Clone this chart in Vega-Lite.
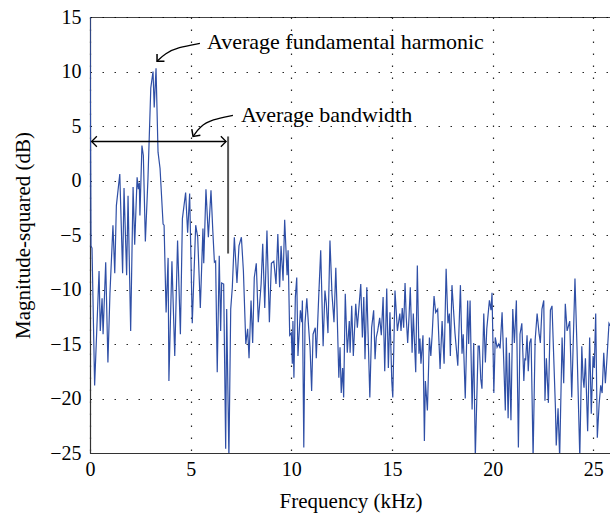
{
  "$schema": "https://vega.github.io/schema/vega-lite/v6.json",
  "width": 521,
  "height": 436,
  "autosize": {"type": "none"},
  "padding": {"left": 90, "top": 17, "right": 0, "bottom": 63},
  "config": {
    "view": {"stroke": "#444", "strokeWidth": 1},
    "font": "Liberation Serif",
    "axis": {
      "labelFont": "Liberation Serif",
      "titleFont": "Liberation Serif",
      "labelFontSize": 20,
      "titleFontSize": 21,
      "titleFontWeight": "normal",
      "labelColor": "#000",
      "titleColor": "#000",
      "domainColor": "#333",
      "domainWidth": 1.2,
      "ticks": false,
      "labelFlush": false,
      "grid": true,
      "gridColor": "#000",
      "gridWidth": 1.2,
      "gridOpacity": 0.85,
      "gridDash": [1.5, 10.5]
    }
  },
  "datasets": {
    "spectrum": [
      {"f":0.0,"db":16},{"f":0.05,"db":-6.0},{"f":0.1,"db":-6.2},{"f":0.23,"db":-18.8},{"f":0.45,"db":-8.3},{"f":0.51,"db":-13.8},{"f":0.6,"db":-10.8},{"f":0.65,"db":-14.1},{"f":0.78,"db":-7.5},{"f":0.89,"db":-16.7},
      {"f":0.99,"db":-10.4},{"f":1.14,"db":-4.1},{"f":1.23,"db":-8.5},{"f":1.31,"db":-2.3},{"f":1.48,"db":0.6},{"f":1.62,"db":-8.5},{"f":1.69,"db":-0.7},{"f":1.82,"db":-8.7},{"f":1.89,"db":-1.4},{"f":2.02,"db":-13.8},
      {"f":2.14,"db":-0.6},{"f":2.22,"db":-5.9},{"f":2.34,"db":0.3},{"f":2.4,"db":-0.8},{"f":2.45,"db":-0.2},{"f":2.48,"db":-3.2},{"f":2.58,"db":3.2},{"f":2.65,"db":2.3},{"f":2.75,"db":-5.6},{"f":2.88,"db":0.2},
      {"f":3.02,"db":8.5},{"f":3.13,"db":10.0},{"f":3.19,"db":6.7},{"f":3.28,"db":10.3},{"f":3.38,"db":2.6},{"f":3.48,"db":1.1},{"f":3.63,"db":-4.0},{"f":3.68,"db":-4.1},{"f":3.78,"db":-12.1},{"f":3.88,"db":-7.1},
      {"f":3.92,"db":-18.4},{"f":4.07,"db":-7.4},{"f":4.21,"db":-16.1},{"f":4.35,"db":-5.5},{"f":4.49,"db":-14.1},{"f":4.59,"db":-3.5},{"f":4.75,"db":-1.1},{"f":4.85,"db":-4.8},{"f":4.95,"db":-1.2},{"f":5.08,"db":-13.1},
      {"f":5.25,"db":-4.1},{"f":5.35,"db":-5.2},{"f":5.48,"db":-11.7},{"f":5.61,"db":-4.4},{"f":5.65,"db":-7.6},{"f":5.76,"db":-0.8},{"f":5.88,"db":-5.2},{"f":6.01,"db":-0.9},{"f":6.1,"db":-4.6},{"f":6.18,"db":-7.5},
      {"f":6.24,"db":-7.4},{"f":6.32,"db":-17.6},{"f":6.42,"db":-6.9},{"f":6.49,"db":-13.8},{"f":6.54,"db":-9.4},{"f":6.64,"db":-9.5},{"f":6.74,"db":-24.6},{"f":6.79,"db":-11.8},{"f":6.9,"db":-25.4},{"f":6.99,"db":-11.8},
      {"f":7.07,"db":-9.8},{"f":7.17,"db":-5.2},{"f":7.3,"db":-9.4},{"f":7.4,"db":-6.0},{"f":7.52,"db":-5.2},{"f":7.62,"db":-8.3},{"f":7.74,"db":-15.0},{"f":7.83,"db":-13.6},{"f":7.9,"db":-16.3},{"f":8.0,"db":-11.0},
      {"f":8.08,"db":-14.9},{"f":8.16,"db":-8.9},{"f":8.26,"db":-7.6},{"f":8.36,"db":-13.0},{"f":8.5,"db":-9.5},{"f":8.58,"db":-5.8},{"f":8.68,"db":-11.7},{"f":8.79,"db":-4.6},{"f":8.91,"db":-13.0},{"f":9.01,"db":-7.6},
      {"f":9.13,"db":-7.4},{"f":9.24,"db":-9.5},{"f":9.33,"db":-4.9},{"f":9.42,"db":-9.8},{"f":9.49,"db":-6.0},{"f":9.59,"db":-9.2},{"f":9.67,"db":-3.6},{"f":9.79,"db":-8.7},{"f":9.84,"db":-6.4},{"f":9.92,"db":-14.2},
      {"f":10.0,"db":-14.0},{"f":10.05,"db":-16.8},{"f":10.08,"db":-12.9},{"f":10.13,"db":-18.1},{"f":10.2,"db":-10.7},{"f":10.27,"db":-8.9},{"f":10.33,"db":-16.1},{"f":10.45,"db":-11.9},{"f":10.52,"db":-13.0},{"f":10.55,"db":-11.0},
      {"f":10.62,"db":-24.5},{"f":10.68,"db":-13.1},{"f":10.77,"db":-10.8},{"f":10.86,"db":-13.5},{"f":10.93,"db":-15.3},{"f":11.01,"db":-19.3},{"f":11.08,"db":-14.1},{"f":11.19,"db":-13.5},{"f":11.24,"db":-16.3},{"f":11.36,"db":-10.7},
      {"f":11.46,"db":-6.4},{"f":11.58,"db":-15.2},{"f":11.67,"db":-10.1},{"f":11.74,"db":-11.3},{"f":11.82,"db":-14.0},{"f":11.92,"db":-5.5},{"f":12.02,"db":-10.4},{"f":12.12,"db":-13.0},{"f":12.21,"db":-8.0},{"f":12.27,"db":-11.7},
      {"f":12.36,"db":-18.1},{"f":12.42,"db":-15.3},{"f":12.48,"db":-19.5},{"f":12.55,"db":-17.2},{"f":12.6,"db":-19.9},{"f":12.68,"db":-10.4},{"f":12.78,"db":-15.8},{"f":12.88,"db":-12.9},{"f":12.92,"db":-15.8},{"f":13.0,"db":-11.5},
      {"f":13.08,"db":-16.1},{"f":13.2,"db":-11.3},{"f":13.28,"db":-13.5},{"f":13.45,"db":-9.5},{"f":13.53,"db":-14.4},{"f":13.6,"db":-10.7},{"f":13.66,"db":-16.4},{"f":13.75,"db":-9.8},{"f":13.9,"db":-19.9},{"f":13.99,"db":-13.5},
      {"f":14.09,"db":-11.9},{"f":14.16,"db":-16.4},{"f":14.22,"db":-14.4},{"f":14.29,"db":-13.8},{"f":14.39,"db":-12.6},{"f":14.47,"db":-14.2},{"f":14.56,"db":-10.7},{"f":14.64,"db":-17.5},{"f":14.74,"db":-9.9},{"f":14.82,"db":-17.2},
      {"f":14.9,"db":-12.1},{"f":14.99,"db":-18.4},{"f":15.04,"db":-19.9},{"f":15.15,"db":-10.1},{"f":15.27,"db":-13.8},{"f":15.39,"db":-12.2},{"f":15.45,"db":-13.8},{"f":15.51,"db":-11.7},{"f":15.58,"db":-13.5},{"f":15.65,"db":-9.4},
      {"f":15.71,"db":-12.6},{"f":15.78,"db":-14.9},{"f":15.85,"db":-12.4},{"f":15.91,"db":-9.8},{"f":16.0,"db":-15.8},{"f":16.06,"db":-12.2},{"f":16.18,"db":-17.6},{"f":16.26,"db":-7.8},{"f":16.34,"db":-15.9},{"f":16.39,"db":-14.5},
      {"f":16.44,"db":-16.8},{"f":16.54,"db":-14.2},{"f":16.61,"db":-23.9},{"f":16.66,"db":-18.4},{"f":16.76,"db":-21.1},{"f":16.86,"db":-14.4},{"f":16.93,"db":-16.1},{"f":17.0,"db":-14.0},{"f":17.09,"db":-10.6},{"f":17.17,"db":-12.1},
      {"f":17.27,"db":-11.8},{"f":17.39,"db":-17.3},{"f":17.49,"db":-12.9},{"f":17.59,"db":-16.8},{"f":17.69,"db":-8.1},{"f":17.78,"db":-13.1},{"f":17.85,"db":-12.2},{"f":17.9,"db":-16.1},{"f":17.98,"db":-9.6},{"f":18.13,"db":-14.0},
      {"f":18.27,"db":-17.0},{"f":18.4,"db":-9.6},{"f":18.48,"db":-15.9},{"f":18.54,"db":-14.1},{"f":18.64,"db":-20.0},{"f":18.76,"db":-11.0},{"f":18.81,"db":-15.0},{"f":18.88,"db":-11.0},{"f":18.98,"db":-21.0},{"f":19.06,"db":-14.9},
      {"f":19.14,"db":-25.4},{"f":19.28,"db":-15.2},{"f":19.34,"db":-15.2},{"f":19.41,"db":-18.2},{"f":19.47,"db":-19.1},{"f":19.56,"db":-12.2},{"f":19.64,"db":-16.7},{"f":19.71,"db":-13.6},{"f":19.84,"db":-11.0},{"f":19.92,"db":-11.9},
      {"f":19.97,"db":-10.3},{"f":20.06,"db":-19.5},{"f":20.13,"db":-14.4},{"f":20.22,"db":-15.3},{"f":20.3,"db":-15.0},{"f":20.37,"db":-15.4},{"f":20.47,"db":-12.1},{"f":20.55,"db":-16.5},{"f":20.63,"db":-21.1},{"f":20.68,"db":-14.4},
      {"f":20.77,"db":-21.8},{"f":20.83,"db":-15.8},{"f":20.91,"db":-22.0},{"f":21.0,"db":-11.8},{"f":21.08,"db":-14.9},{"f":21.18,"db":-11.0},{"f":21.28,"db":-24.5},{"f":21.36,"db":-14.1},{"f":21.45,"db":-13.1},{"f":21.55,"db":-18.4},
      {"f":21.6,"db":-16.3},{"f":21.64,"db":-16.5},{"f":21.71,"db":-14.2},{"f":21.77,"db":-17.5},{"f":21.84,"db":-14.9},{"f":21.91,"db":-14.5},{"f":22.01,"db":-25.4},{"f":22.11,"db":-14.7},{"f":22.21,"db":-12.2},{"f":22.31,"db":-14.1},
      {"f":22.37,"db":-14.9},{"f":22.45,"db":-11.8},{"f":22.54,"db":-11.0},{"f":22.6,"db":-20.2},{"f":22.67,"db":-16.3},{"f":22.77,"db":-20.4},{"f":22.87,"db":-11.9},{"f":22.95,"db":-11.5},{"f":23.04,"db":-16.5},{"f":23.12,"db":-20.9},
      {"f":23.16,"db":-24.3},{"f":23.25,"db":-20.9},{"f":23.33,"db":-25.4},{"f":23.45,"db":-14.4},{"f":23.53,"db":-18.6},{"f":23.61,"db":-11.3},{"f":23.7,"db":-13.8},{"f":23.83,"db":-12.9},{"f":23.93,"db":-19.9},{"f":23.99,"db":-15.8},
      {"f":24.09,"db":-9.0},{"f":24.19,"db":-15.2},{"f":24.33,"db":-25.4},{"f":24.43,"db":-15.2},{"f":24.49,"db":-18.1},{"f":24.54,"db":-19.0},{"f":24.61,"db":-16.3},{"f":24.72,"db":-23.0},{"f":24.82,"db":-14.4},{"f":24.9,"db":-21.4},
      {"f":24.99,"db":-16.1},{"f":25.05,"db":-17.2},{"f":25.12,"db":-12.2},{"f":25.2,"db":-23.6},{"f":25.29,"db":-20.5},{"f":25.37,"db":-18.8},{"f":25.44,"db":-19.5},{"f":25.52,"db":-15.8},{"f":25.6,"db":-18.6},{"f":25.68,"db":-16.3},
      {"f":25.78,"db":-13.1},{"f":25.9,"db":-13.5}
    ],
    "curves": [
      {"id":"harm","ord":1,"f":5.46,"db":12.58},
      {"id":"harm","ord":2,"f":4.37,"db":12.21},
      {"id":"harm","ord":3,"f":3.73,"db":11.66},
      {"id":"harm","ord":4,"f":3.33,"db":10.93},
      {"id":"bw","ord":1,"f":7.1,"db":5.97},
      {"id":"bw","ord":2,"f":6.06,"db":5.6},
      {"id":"bw","ord":3,"f":5.46,"db":4.96},
      {"id":"bw","ord":4,"f":5.12,"db":4.04},
      {"id":"span","ord":1,"f":0.08,"db":3.58},
      {"id":"span","ord":2,"f":6.76,"db":3.58}
    ],
    "labels": [
      {"f":5.81,"db":12.67,"text":"Average fundamental harmonic"},
      {"f":7.5,"db":5.97,"text":"Average bandwidth"}
    ]
  },
  "layer": [
    {
      "data": {"name": "spectrum"},
      "mark": {"type": "line", "color": "#2F4FA6", "strokeWidth": 1.2, "clip": true},
      "encoding": {
        "x": {"field": "f", "type": "quantitative", "scale": {"domain": [0, 25.88], "nice": false},
          "axis": {"values": [0, 5, 10, 15, 20, 25], "title": "Frequency (kHz)", "labelPadding": 6, "titlePadding": 11}},
        "y": {"field": "db", "type": "quantitative", "scale": {"domain": [-25, 15], "nice": false},
          "axis": {"values": [-25, -20, -15, -10, -5, 0, 5, 10, 15], "title": "Magnitude-squared (dB)", "labelPadding": 9, "titlePadding": 16}}
      }
    },
    {
      "data": {"values": [{"f": 6.86, "top": 4.04, "bottom": -6.7}]},
      "mark": {"type": "rule", "color": "#555", "strokeWidth": 2},
      "encoding": {
        "x": {"field": "f", "type": "quantitative"},
        "y": {"field": "top", "type": "quantitative"},
        "y2": {"field": "bottom"}
      }
    },
    {
      "data": {"name": "curves"},
      "mark": {"type": "line", "color": "#000", "strokeWidth": 1.3, "interpolate": "basis"},
      "encoding": {
        "x": {"field": "f", "type": "quantitative"},
        "y": {"field": "db", "type": "quantitative"},
        "detail": {"field": "id"},
        "order": {"field": "ord"}
      }
    },
    {
      "data": {"values": [{"f": 6.76, "db": 3.58}]},
      "mark": {"type": "point", "shape": "M-1,-1L0,0L-1,1", "filled": false, "color": "#000", "strokeWidth": 1.3, "size": 110, "opacity": 1},
      "encoding": {"x": {"field": "f", "type": "quantitative"}, "y": {"field": "db", "type": "quantitative"}}
    },
    {
      "data": {"values": [{"f": 0.08, "db": 3.58}]},
      "mark": {"type": "point", "shape": "M-1,-1L0,0L-1,1", "angle": 180, "filled": false, "color": "#000", "strokeWidth": 1.3, "size": 110, "opacity": 1},
      "encoding": {"x": {"field": "f", "type": "quantitative"}, "y": {"field": "db", "type": "quantitative"}}
    },
    {
      "data": {"values": [{"f": 3.33, "db": 10.93}]},
      "mark": {"type": "point", "shape": "M-1,-1L0,0L-1,1", "angle": 135, "filled": false, "color": "#000", "strokeWidth": 1.5, "size": 110, "opacity": 1},
      "encoding": {"x": {"field": "f", "type": "quantitative"}, "y": {"field": "db", "type": "quantitative"}}
    },
    {
      "data": {"values": [{"f": 5.12, "db": 4.04}]},
      "mark": {"type": "point", "shape": "M-1,-1L0,0L-1,1", "angle": 125, "filled": false, "color": "#000", "strokeWidth": 1.5, "size": 110, "opacity": 1},
      "encoding": {"x": {"field": "f", "type": "quantitative"}, "y": {"field": "db", "type": "quantitative"}}
    },
    {
      "data": {"name": "labels"},
      "mark": {"type": "text", "align": "left", "baseline": "middle", "font": "Liberation Serif", "fontSize": 22, "color": "#000"},
      "encoding": {
        "x": {"field": "f", "type": "quantitative"},
        "y": {"field": "db", "type": "quantitative"},
        "text": {"field": "text"}
      }
    }
  ]
}
